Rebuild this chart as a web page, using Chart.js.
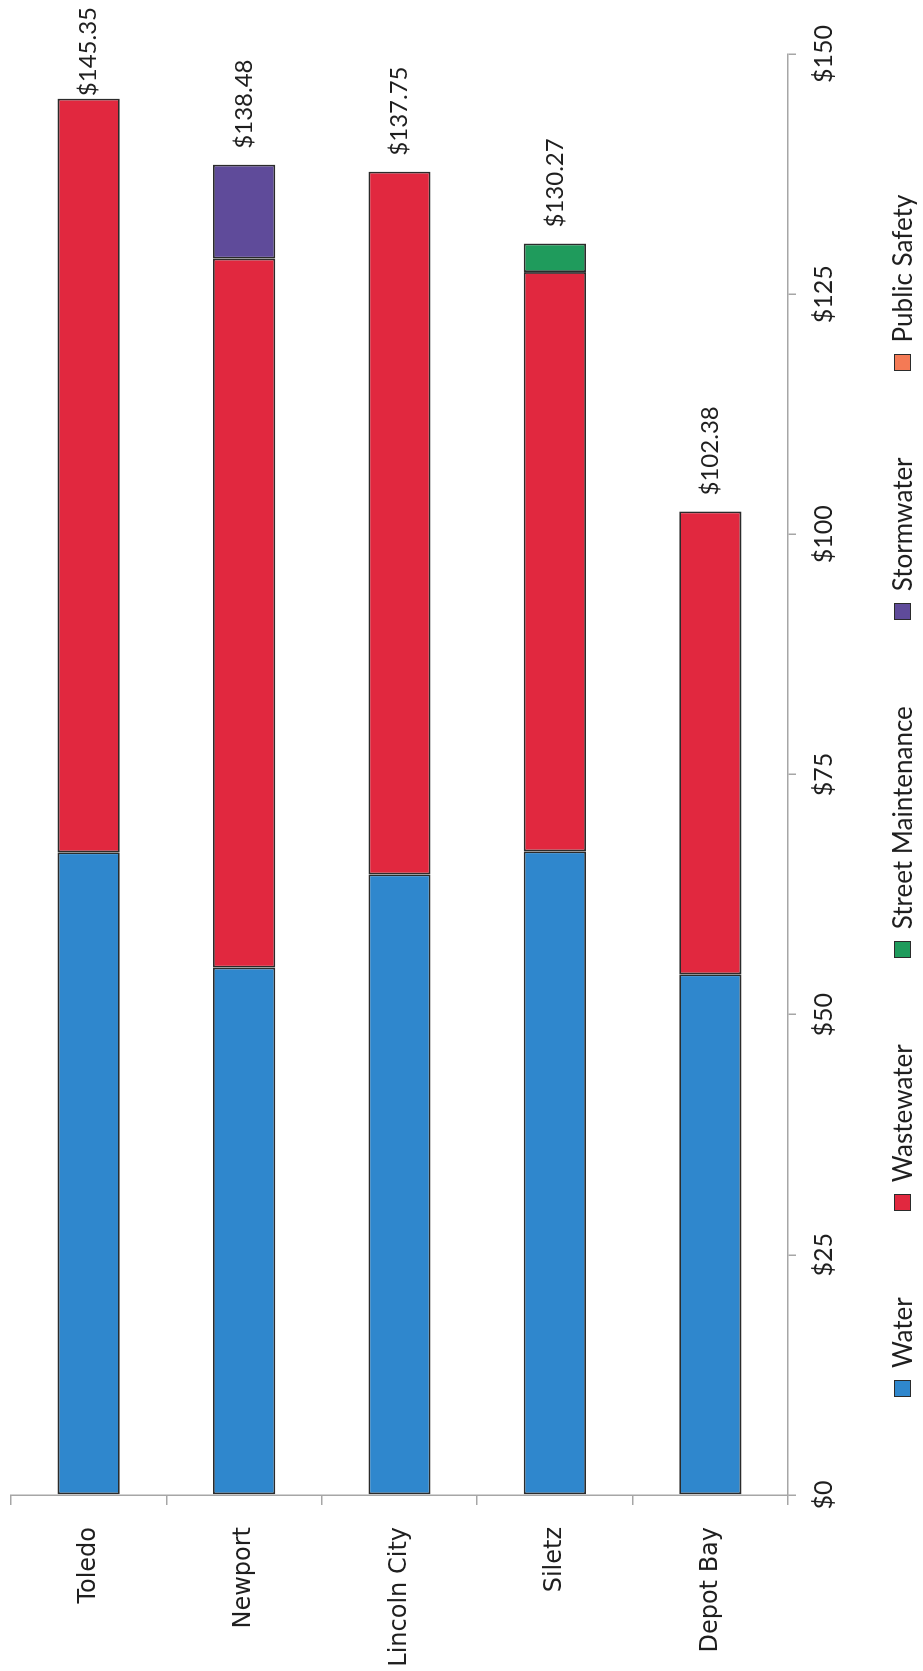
<!DOCTYPE html>
<html>
<head>
<meta charset="utf-8">
<title>Monthly city charges</title>
<script src="https://cdn.jsdelivr.net/npm/chart.js@4.4.0/dist/chart.umd.min.js"></script>
<style>
    html, body { margin: 0; padding: 0; background: #fff; overflow: hidden; }
    #page { position: relative; width: 923px; height: 1671px; background: #fff; }
    /* the chart is laid out as horizontal bars, then turned a quarter turn to the left */
    #chart-box {
        position: absolute; left: 0; top: 0;
        width: 1671px; height: 923px;
        transform-origin: 0 0;
        transform: translate(0, 1671px) rotate(-90deg);
    }
    #fees-chart { display: block; width: 1671px; height: 923px; }
    #legend {
        position: absolute; left: 274px; top: 889px;
        display: flex; gap: 86px;
        font: 26px Lato, sans-serif; line-height: 26px;
        color: #1f1f1f; white-space: nowrap;
    }
    .legend-item { display: flex; align-items: center; }
    .swatch {
        width: 17px; height: 17px; box-sizing: border-box;
        border: 1.5px solid #2b2b2b; margin-right: 12px;
    }
</style>
</head>
<body>
<div id="page">
    <div id="chart-box">
        <canvas id="fees-chart" width="1671" height="923"></canvas>
        <div id="legend"></div>
    </div>
</div>
<script>
// Data
const cities = ['Toledo', 'Newport', 'Lincoln City', 'Siletz', 'Depot Bay'];
const water = [66.90, 54.90, 64.60, 67.00, 54.20];
const wastewater = [78.45, 73.80, 73.15, 60.30, 48.18];
const streetMaintenance = [null, null, null, 2.97, null];
const stormwater = [null, 9.78, null, null, null];
const publicSafety = [null, null, null, null, null];
const valueTicks = [0, 25, 50, 75, 100, 125, 150];

const AXIS_GRAY = '#a6a6a6';
const TEXT_DARK = '#1f1f1f';
const BAR_EDGE = '#2b2b2b';

// Writes the city total just past the end of each stacked bar
const totalLabels = {
    id: 'totalLabels',
    afterDatasetsDraw(chart) {
        const ctx = chart.ctx;
        const xScale = chart.scales.x;
        const yScale = chart.scales.y;
        ctx.save();
        ctx.font = '24px Lato';
        ctx.fillStyle = TEXT_DARK;
        ctx.textAlign = 'left';
        ctx.textBaseline = 'middle';
        cities.forEach((city, i) => {
            const total = chart.data.datasets.reduce((sum, ds) => sum + (ds.data[i] || 0), 0);
            const text = '$' + total.toFixed(2);
            const width = ctx.measureText(text).width;
            // keep the label inside the canvas, like the Toledo one in the scan
            const left = Math.min(xScale.getPixelForValue(total) + 16, chart.width - 7 - width);
            ctx.fillText(text, left, yScale.getPixelForValue(i));
        });
        ctx.restore();
    }
};

function makeSeries(label, data, color) {
    return {
        label: label,
        data: data,
        backgroundColor: color,
        borderColor: BAR_EDGE,
        borderWidth: 1.8,
        borderSkipped: false,
        categoryPercentage: 1.0,
        barPercentage: 0.4
    };
}

// Legend as plain html, built from the datasets
function buildLegend(chart) {
    const holder = document.getElementById('legend');
    chart.data.datasets.forEach(ds => {
        const item = document.createElement('span');
        item.className = 'legend-item';
        const swatch = document.createElement('span');
        swatch.className = 'swatch';
        swatch.style.background = ds.backgroundColor;
        const text = document.createElement('span');
        text.textContent = ds.label;
        item.append(swatch, text);
        holder.append(item);
    });
}

const ctx = document.getElementById('fees-chart').getContext('2d');
const feesChart = new Chart(ctx, {
    type: 'bar',
    data: {
        labels: cities,
        datasets: [
            makeSeries('Water', water, '#2f87cd'),
            makeSeries('Wastewater', wastewater, '#e1283f'),
            makeSeries('Street Maintenance', streetMaintenance, '#1f9b5c'),
            makeSeries('Stormwater', stormwater, '#5f4b9a'),
            makeSeries('Public Safety', publicSafety, '#f47a55')
        ]
    },
    options: {
        indexAxis: 'y',
        responsive: false,
        animation: false,
        devicePixelRatio: 1,
        layout: {
            padding: { left: 0, right: 54, top: 11, bottom: 0 }
        },
        scales: {
            x: {
                stacked: true,
                min: 0,
                max: 150,
                afterBuildTicks: axis => {
                    axis.ticks = valueTicks.map(v => ({ value: v }));
                },
                afterFit: axis => {
                    axis.height = 135;
                },
                grid: {
                    drawOnChartArea: false,
                    tickLength: 8,
                    color: AXIS_GRAY,
                    lineWidth: 1.5
                },
                border: { color: AXIS_GRAY, width: 1.5 },
                ticks: {
                    padding: 13,
                    maxRotation: 0,
                    color: TEXT_DARK,
                    font: { family: 'Lato', size: 25 },
                    callback: value => '$' + value
                }
            },
            y: {
                stacked: true,
                afterFit: axis => {
                    axis.width = 176;
                    // no extra room above/below for the label halves
                    axis.paddingTop = 0;
                    axis.paddingBottom = 0;
                },
                grid: {
                    drawOnChartArea: false,
                    offset: true,
                    tickLength: 10,
                    color: AXIS_GRAY,
                    lineWidth: 1.5
                },
                border: { color: AXIS_GRAY, width: 1.5 },
                ticks: {
                    padding: 22,
                    color: TEXT_DARK,
                    font: { family: 'DejaVu Sans', size: 24 }
                }
            }
        },
        plugins: {
            legend: { display: false },
            tooltip: { enabled: false }
        }
    },
    plugins: [totalLabels]
});

buildLegend(feesChart);
</script>
</body>
</html>
